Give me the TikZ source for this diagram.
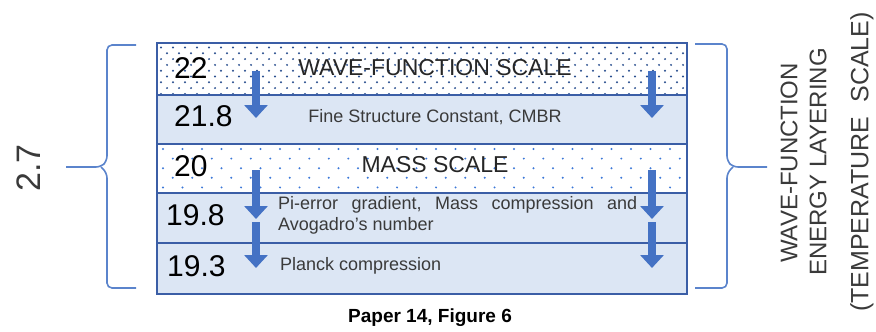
\documentclass[tikz,border=0pt]{standalone}
\usepackage{fontspec}
\setmainfont{Liberation Sans}
\usetikzlibrary{arrows.meta}
\definecolor{bord}{HTML}{3B5EA6}
\definecolor{fillb}{HTML}{DCE6F4}
\definecolor{arr}{HTML}{4472C4}
\definecolor{brc}{HTML}{5B84CC}
\definecolor{txt}{HTML}{3A3A3A}
\definecolor{dotc}{HTML}{2A4F8F}
\definecolor{dotl}{HTML}{3C78D8}
\begin{document}
\begin{tikzpicture}[x=1pt,y=-1pt,
  layer/.style={line width=1.8pt, minimum width=530pt, anchor=north west, inner sep=0pt, outer sep=0pt},
  border/.style={draw=bord, line width=1.8pt},
  downarrow/.style={draw=arr, line width=8pt, -{Triangle[width=23pt,length=13pt]}},
  num/.style={anchor=west, inner sep=0pt, font=\fontsize{30}{30}\selectfont, text=black},
  head/.style={inner sep=0pt, font=\fontsize{23}{23}\selectfont, text=black!85},
  small/.style={inner sep=0pt, font=\fontsize{18}{21}\selectfont, text=txt},
  brace/.style={draw=brc, line width=1.6pt, rounded corners=5pt},
  rot/.style={rotate=90, inner sep=0pt, font=\fontsize{24}{24}\selectfont, text=txt}
]
\useasboundingbox (0,0) rectangle (876,332);
% layers
\node[layer, minimum height=52pt, fill=white] (L1) at (157,43) {};
\node[layer, minimum height=49pt, fill=fillb] (L2) at (157,95) {};
\node[layer, minimum height=49pt, fill=white] (L3) at (157,144) {};
\node[layer, minimum height=50pt, fill=fillb] (L4) at (157,193) {};
\node[layer, minimum height=51pt, fill=fillb] (L5) at (157,243) {};
% dots
\begin{scope}
\clip (L1.north west) rectangle (L1.south east);
\foreach \j in {0,...,8}{
  \pgfmathsetmacro\off{mod(\j,2)*6}
  \foreach \i in {0,...,44}{
    \fill[dotc] ({161+12*\i+\off},{47.5+5.8*\j}) circle (1.1pt);
  }
}
\end{scope}
\begin{scope}
\clip (L3.north west) rectangle (L3.south east);
\foreach \j in {0,...,4}{
  \pgfmathsetmacro\off{mod(\j,2)*9.75}
  \foreach \i in {0,...,28}{
    \fill[dotl] ({163+19.5*\i+\off},{149+9.6*\j}) circle (1.1pt);
  }
}
\end{scope}
% borders
\foreach \n in {L1,L2,L3,L4,L5}{
  \draw[border] (\n.north west) rectangle (\n.south east);
}
% texts
\node[num] (n22) at (174,68) {22};
\node[head] (t1) at (435,68) {WAVE-FUNCTION SCALE};
\node[num] (n218) at (174,116) {21.8};
\node[small] (t2) at (435,117) {Fine Structure Constant, CMBR};
\node[num] (n20) at (174,166) {20};
\node[head] (t3) at (435,165) {MASS SCALE};
\node[num] (n198) at (166,215) {19.8};
\node[small, anchor=north west, align=left] (t4) at (278,196)
  {\hbox to 359pt{Pi-error\hfill gradient,\hfill Mass\hfill compression\hfill and}\\Avogadro's number};
\node[num] (n193) at (167,266) {19.3};
\node[small, anchor=west] (t5) at (280,266) {Planck compression};
% arrows
\coordinate (a1s) at (256,71);  \coordinate (a1e) at (256,118);
\coordinate (a2s) at (256,170); \coordinate (a2e) at (256,219);
\coordinate (a3s) at (256,222); \coordinate (a3e) at (256,268);
\coordinate (b1s) at (652,71);  \coordinate (b1e) at (652,118);
\coordinate (b2s) at (652,170); \coordinate (b2e) at (652,219);
\coordinate (b3s) at (652,222); \coordinate (b3e) at (652,268);
\draw[downarrow] (a1s) -- (a1e);
\draw[downarrow] (a2s) -- (a2e);
\draw[downarrow] (a3s) -- (a3e);
\draw[downarrow] (b1s) -- (b1e);
\draw[downarrow] (b2s) -- (b2e);
\draw[downarrow] (b3s) -- (b3e);
% left brace
\draw[brace] (136,45) -- (107,45) -- (107,161) -- (101,167) -- (66,167);
\draw[brace] (101,167) -- (107,173) -- (107,288) -- (136,288);
\node[rot, font=\fontsize{34}{34}\selectfont] (v27) at (29,168) {2.7};
% right brace
\draw[brace] (695,44) -- (727,44) -- (727,161) -- (733,167) -- (767,167);
\draw[brace] (733,167) -- (727,173) -- (727,288) -- (695,288);
\node[rot] (r1) at (789,163) {WAVE-FUNCTION};
\node[rot] (r2) at (818,162) {ENERGY LAYERING};
\node[rot, font=\fontsize{25}{25}\selectfont] (r3) at (862,162) {(TEMPERATURE\ \ SCALE)};
% caption
\node[inner sep=0pt, font=\bfseries\fontsize{19}{19}\selectfont] (cap) at (430,318) {Paper 14, Figure 6};
\end{tikzpicture}
\end{document}
